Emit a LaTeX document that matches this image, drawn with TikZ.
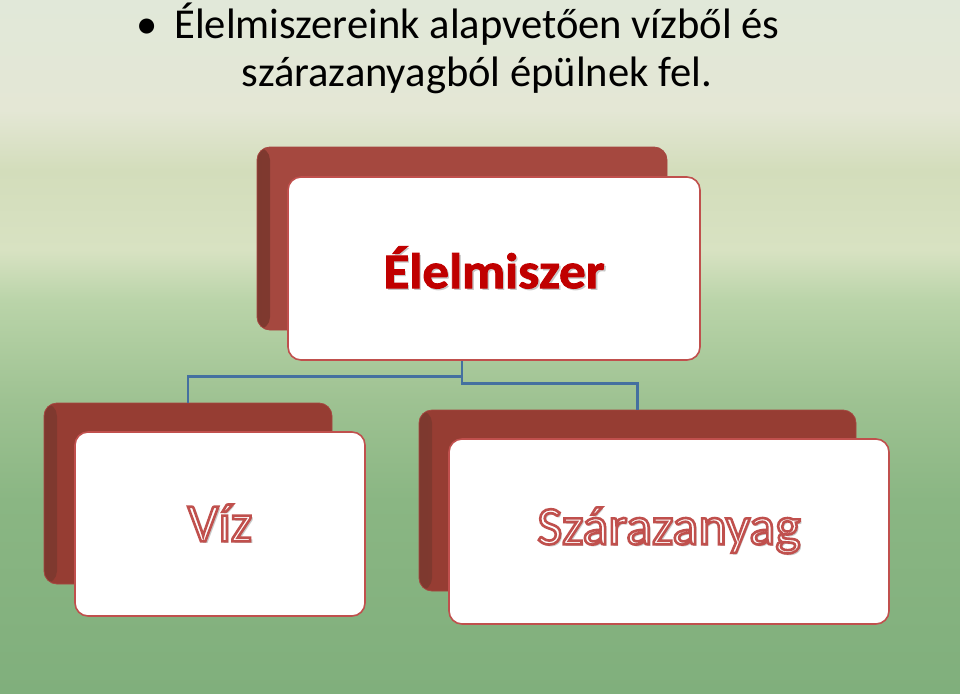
\documentclass[tikz,border=0pt]{standalone}
\usepackage{fontspec}
\usepackage{graphicx}
\setmainfont{Carlito}
\definecolor{bgA}{HTML}{E1E8D9}
\definecolor{bgB}{HTML}{E4E7D5}
\definecolor{bgC}{HTML}{D3DDBB}
\definecolor{bgD}{HTML}{D8E2C2}
\definecolor{bgE}{HTML}{BAD4A9}
\definecolor{bgF}{HTML}{9EC292}
\definecolor{bgG}{HTML}{8AB683}
\definecolor{bgH}{HTML}{80AF7C}
\definecolor{backTop}{HTML}{A5483F}
\definecolor{backLow}{HTML}{963D33}
\definecolor{backEdge}{HTML}{7E392F}
\definecolor{frameRed}{HTML}{C0504D}
\definecolor{textRed}{HTML}{C00000}
\definecolor{connBlue}{HTML}{4470A0}
\newcommand\shadowcopy[1]{\rlap{\kern2.2pt\raisebox{-2.2pt}{\color{black!22}#1}}}
\newcommand\outlinetext[1]{\shadowcopy{#1}{\color{white}\special{pdf:literal direct 2 Tr 2.6 w 0.753 0.314 0.302 RG}#1\special{pdf:literal direct 0 Tr}}}
\newcommand\boldredtext[1]{\shadowcopy{#1}{\color{textRed}\special{pdf:literal direct 2 Tr 0.9 w 0.753 0 0 RG}#1\special{pdf:literal direct 0 Tr}}}
\tikzset{
  backbox/.style={draw=frameRed!60!backEdge, line width=0.8pt, rounded corners=13pt, inner sep=0pt, fill=#1,
    path picture={\shade[left color=backEdge, right color=#1]
      ([xshift=-1pt]path picture bounding box.south west) rectangle ([xshift=13pt]path picture bounding box.north west);}},
  frontbox/.style={draw=frameRed, fill=white, line width=1.6pt, rounded corners=13pt, inner sep=0pt},
  conn/.style={draw=connBlue, line width=2.4pt},
  title/.style={inner sep=0pt, anchor=base, font=\fontsize{42.6}{50}\selectfont, text=black},
  outlined/.style={font=\fontsize{54}{64}\selectfont}
}
\begin{document}
\begin{tikzpicture}[x=1pt,y=-1pt]
\useasboundingbox (0,0) rectangle (960,693);
% background bands
\shade[top color=bgA, bottom color=bgB] (0,0) rectangle (960,110.5);
\shade[top color=bgB, bottom color=bgC] (0,110) rectangle (960,170.5);
\shade[top color=bgC, bottom color=bgD] (0,170) rectangle (960,250.5);
\shade[top color=bgD, bottom color=bgE] (0,250) rectangle (960,300.5);
\shade[top color=bgE, bottom color=bgF] (0,300) rectangle (960,400.5);
\shade[top color=bgF, bottom color=bgG] (0,400) rectangle (960,500.5);
\shade[top color=bgG, bottom color=bgH] (0,500) rectangle (960,693);
% title
\node[title] (bullet) at (147,38) {•};
\node[title] (line1) at (477,38) {Élelmiszereink alapvetően vízből és};
\node[title] (line2) at (477,86) {szárazanyagból épülnek fel.};
% back boxes
\node[backbox=backTop, minimum width=410pt, minimum height=183pt] (topb) at (462,238.5) {};
\node[backbox=backLow, minimum width=288pt, minimum height=181pt] (leftb) at (188,493.5) {};
\node[backbox=backLow, minimum width=437pt, minimum height=181pt] (rightb) at (637.5,500.5) {};
% connectors
\draw[conn] (topb.south) -- ++(0,46) -| (leftb.north);
\draw[conn] (topb.south) -- ++(0,53) -| (rightb.north);
% front boxes
\node[frontbox, minimum width=412pt, minimum height=183pt, font=\fontsize{50}{60}\selectfont\bfseries] (topf) at (494,268.5) {\scalebox{1.06}[1]{\boldredtext{Élelmiszer}}};
\node[frontbox, minimum width=290pt, minimum height=184pt, outlined] (leftf) at (220,524) {\outlinetext{Víz}};
\node[frontbox, minimum width=440pt, minimum height=185pt, outlined] (rightf) at (669,531.5) {\outlinetext{Szárazanyag}};
\end{tikzpicture}
\end{document}
